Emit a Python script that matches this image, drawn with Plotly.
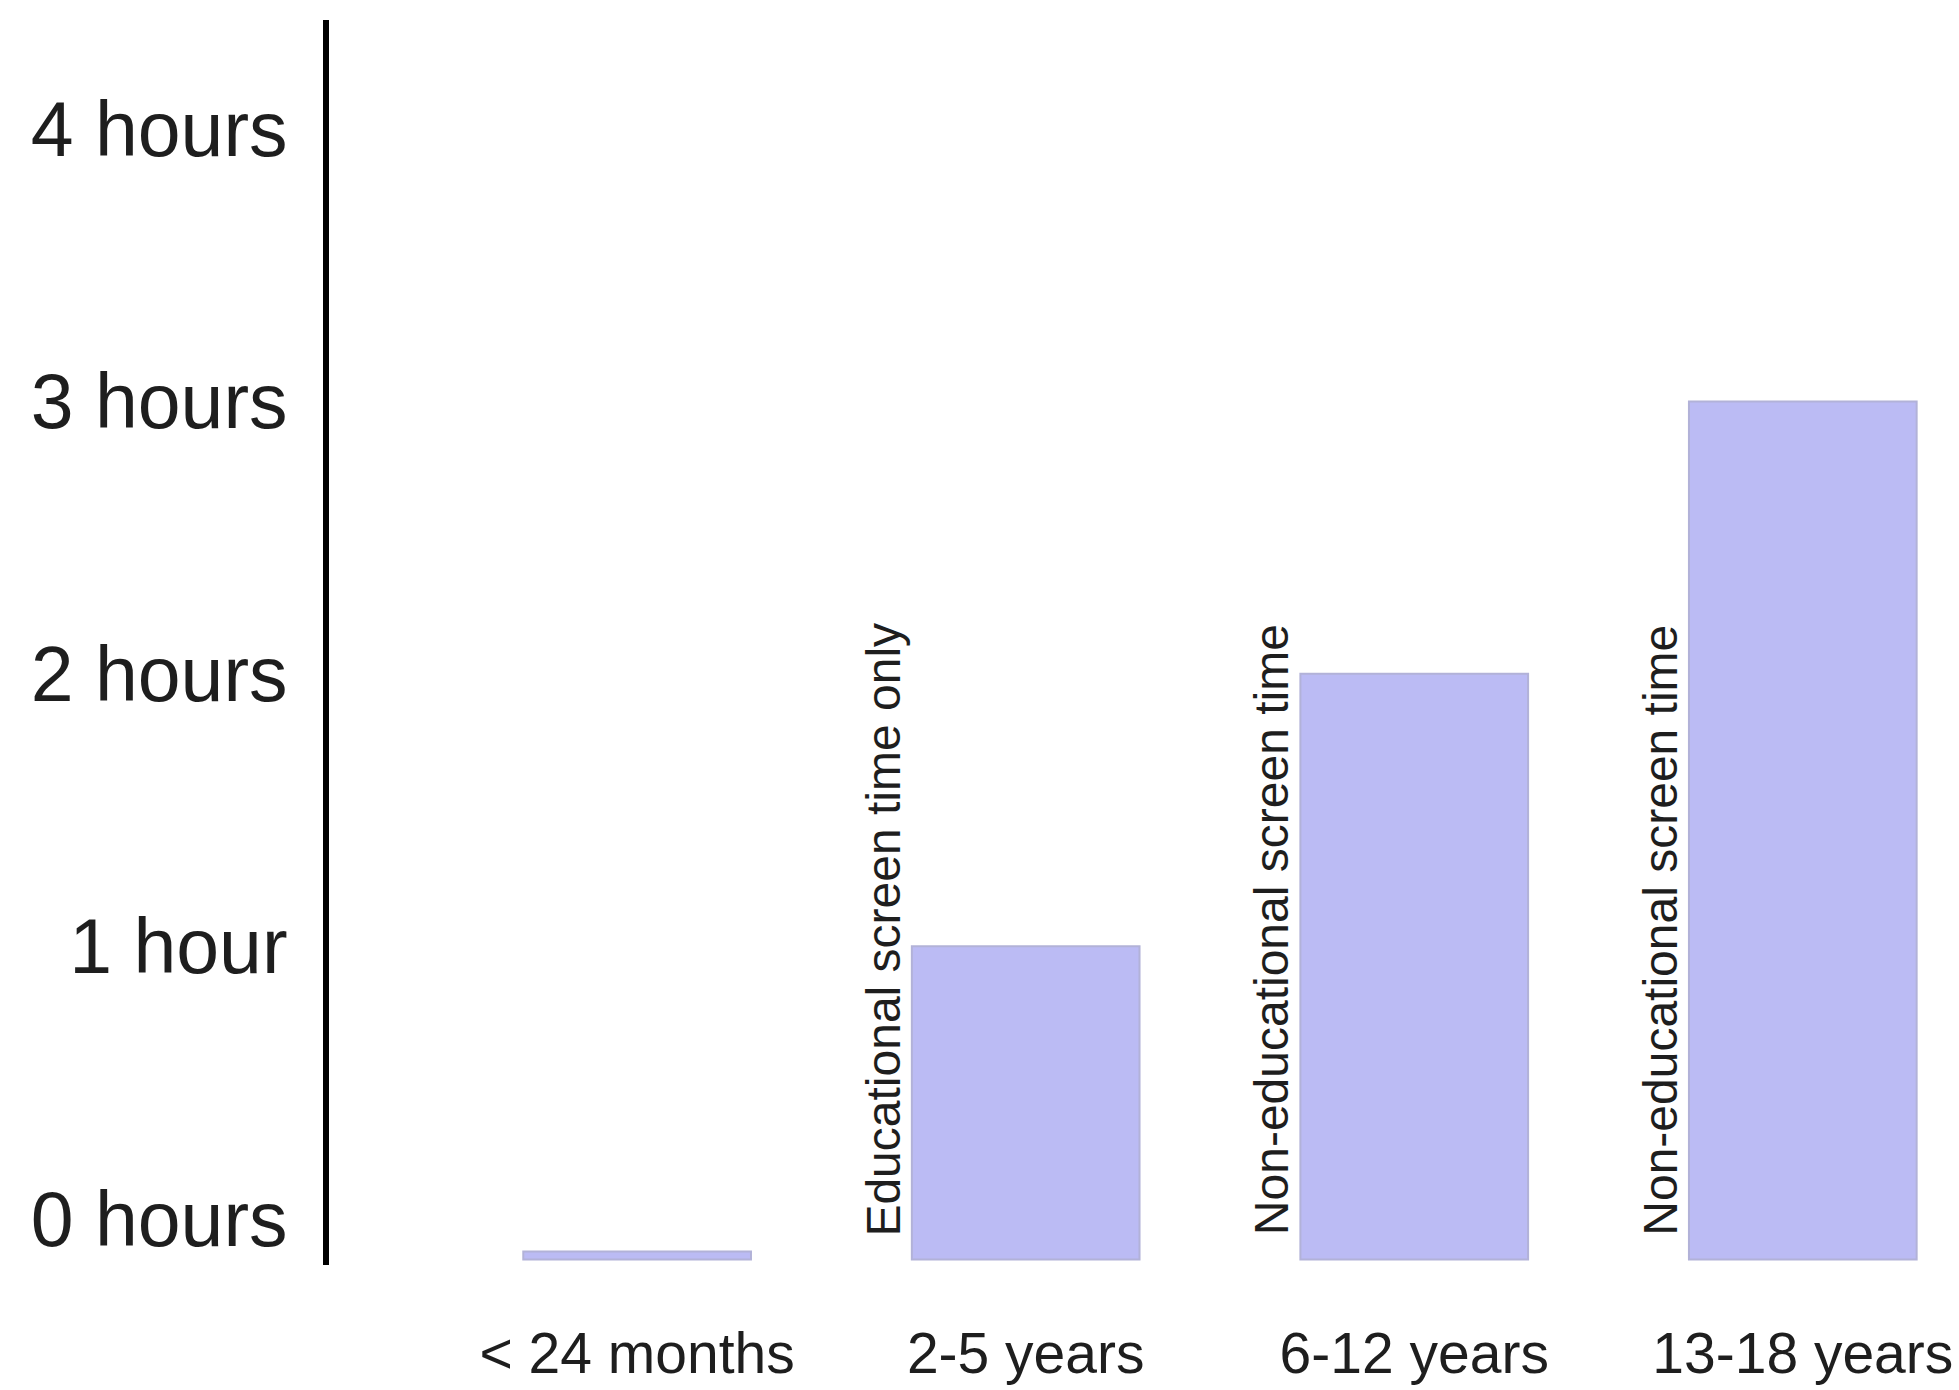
import plotly.graph_objects as go

# ---- data ----
categories = ["< 24 months", "2-5 years", "6-12 years", "13-18 years"]
hours = [0, 1, 2, 3]
notes = ["", "Educational screen time only", "Non-educational screen time", "Non-educational screen time"]
tick_vals = [0, 1, 2, 3, 4]
tick_text = ["0 hours", "1 hour", "2 hours", "3 hours", "4 hours"]

# ---- style ----
BASE = -0.15      # bars start slightly below the zero label
STUB = 0.03       # visible stub for a zero-hour bar
FONT = "Liberation Sans, Arial, sans-serif"
TEXT = "#1e1e1e"
BAR = "#BBBBF4"
EDGE = "#B2B2D8"

lengths = [h - BASE if h > 0 else STUB for h in hours]

fig = go.Figure()
fig.add_trace(go.Bar(
    x=categories,
    y=lengths,
    base=BASE,
    width=0.586,
    marker=dict(color=BAR, line=dict(color=EDGE, width=2)),
    hoverinfo="skip",
))

for cat, note in zip(categories, notes):
    if note:
        fig.add_annotation(
            x=cat, y=1.06, xref="x", yref="y",
            text=note, textangle=-90, showarrow=False,
            xshift=-142,
            font=dict(family=FONT, size=48, color=TEXT),
        )

fig.update_layout(
    width=1959, height=1390,
    margin=dict(l=329, r=0, t=20, b=125, autoexpand=False),
    paper_bgcolor="white", plot_bgcolor="white",
    showlegend=False,
)
fig.update_xaxes(
    type="category",
    range=[-0.793, 3.402],
    showline=False, showgrid=False, zeroline=False,
    ticks="", ticklabelstandoff=50,
    tickfont=dict(family=FONT, size=57, color=TEXT),
)
fig.update_yaxes(
    range=[-0.17, 4.40],
    tickvals=tick_vals, ticktext=tick_text,
    showline=True, linecolor="black", linewidth=6,
    showgrid=False, zeroline=False,
    ticks="", ticklabelstandoff=20,
    tickfont=dict(family=FONT, size=77, color=TEXT),
)

fig.write_html("out.html")
